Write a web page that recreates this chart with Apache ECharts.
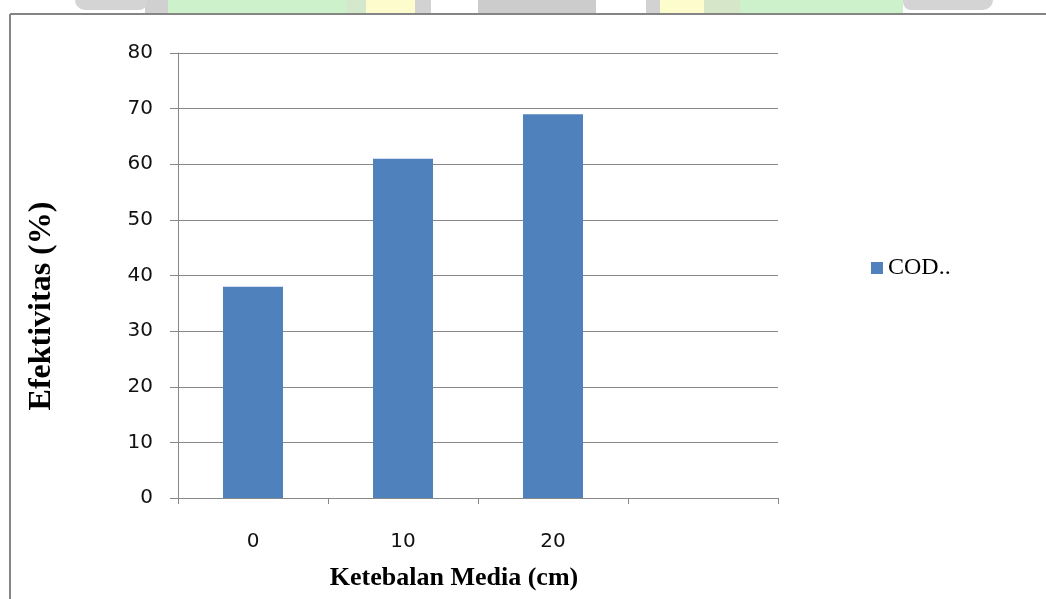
<!DOCTYPE html>
<html>
<head>
<meta charset="utf-8">
<title>Efektivitas COD</title>
<script src="https://cdn.jsdelivr.net/npm/echarts@6/dist/echarts.min.js"></script>
<style>
  html, body { margin: 0; padding: 0; background: #ffffff; }
  #chart { width: 1046px; height: 599px; }
</style>
</head>
<body>
<div id="chart"></div>
<script>
// Media thickness (cm) on the x axis; the last slot is an empty category
const categories = ['0', '10', '20', ''];
// COD removal effectiveness (%)
const codValues = [38, 61, 69, null];
const seriesName = 'COD..';
const yTicks = { min: 0, max: 80, interval: 10 };
const xTitle = 'Ketebalan Media (cm)';
const yTitle = 'Efektivitas (%)';

const chart = echarts.init(document.getElementById('chart'));

// faded logo strip along the top edge
const band = [
  { x: 145, w: 25, c: '#d0d0d0' },
  { x: 168, w: 178, c: '#cdf2cb' },
  { x: 346, w: 20, c: '#d4e8cc' },
  { x: 366, w: 50, c: '#fdfccc' },
  { x: 415, w: 16, c: '#d2d2d2' },
  { x: 478, w: 118, c: '#cccccc' },
  { x: 646, w: 14, c: '#d2d2d2' },
  { x: 660, w: 44, c: '#fdfccc' },
  { x: 704, w: 36, c: '#d6e6c8' },
  { x: 740, w: 163, c: '#cdf2cb' }
];
const graphics = band.map(b => ({
  type: 'rect', silent: true,
  shape: { x: b.x, y: 0, width: b.w, height: 13 },
  style: { fill: b.c }
}));
graphics.push(
  { type: 'rect', silent: true, shape: { x: 75, y: 0, width: 72, height: 10, r: [0, 0, 8, 30] }, style: { fill: '#d4d4d4' } },
  { type: 'rect', silent: true, shape: { x: 903, y: 0, width: 90, height: 10, r: [0, 0, 30, 8] }, style: { fill: '#d4d4d4' } },
  // chart frame (top and left edges)
  { type: 'line', silent: true, shape: { x1: 10, y1: 14, x2: 1046, y2: 14 }, style: { stroke: '#858585', lineWidth: 2 } },
  { type: 'line', silent: true, shape: { x1: 10, y1: 14, x2: 10, y2: 599 }, style: { stroke: '#858585', lineWidth: 2 } },
  // axis titles
  {
    type: 'text', silent: true, x: 454, y: 578,
    style: {
      text: xTitle, fontFamily: 'Liberation Serif', fontWeight: 'bold', fontSize: 26,
      fill: '#000', align: 'center', verticalAlign: 'middle'
    }
  },
  {
    type: 'text', silent: true, x: 42, y: 306, rotation: Math.PI / 2,
    style: {
      text: yTitle, fontFamily: 'Liberation Serif', fontWeight: 'bold', fontSize: 32,
      fill: '#000', align: 'center', verticalAlign: 'middle'
    }
  }
);

chart.setOption({
  animation: false,
  backgroundColor: '#ffffff',
  graphic: graphics,
  grid: { left: 178, right: 268, top: 53, bottom: 101, containLabel: false },
  legend: {
    left: 866, top: 251,
    itemWidth: 12, itemHeight: 12, itemGap: 4,
    icon: 'rect',
    data: [seriesName],
    textStyle: { fontFamily: 'Liberation Serif', fontSize: 24, color: '#000' }
  },
  xAxis: {
    type: 'category',
    data: categories,
    boundaryGap: true,
    axisLine: { show: true, lineStyle: { color: '#888888', width: 1 } },
    axisTick: { show: true, length: 6, lineStyle: { color: '#888888' } },
    axisLabel: { margin: 34, fontFamily: 'DejaVu Sans', fontSize: 20, color: '#111' },
    splitLine: { show: false }
  },
  yAxis: {
    type: 'value',
    min: yTicks.min, max: yTicks.max, interval: yTicks.interval,
    axisLine: { show: true, lineStyle: { color: '#888888', width: 1 } },
    axisTick: { show: true, length: 8, inside: false, lineStyle: { color: '#888888' } },
    axisLabel: { margin: 25, fontFamily: 'DejaVu Sans', fontSize: 20, color: '#111' },
    splitLine: { show: true, lineStyle: { color: '#888888', width: 1 } }
  },
  series: [{
    name: seriesName,
    type: 'bar',
    data: codValues,
    barWidth: 60,
    itemStyle: { color: '#4f81bd' }
  }]
});
</script>
</body>
</html>
